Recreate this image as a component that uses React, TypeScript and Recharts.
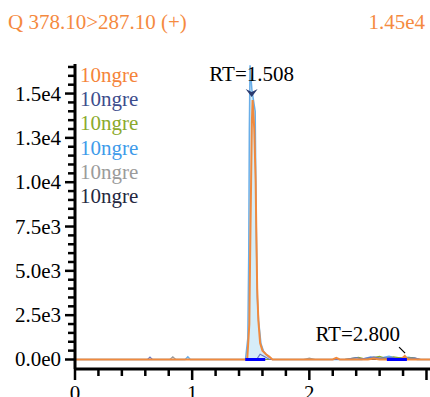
import React from 'react';
import { ComposedChart, Line, Area, XAxis, YAxis, ReferenceLine, ReferenceDot } from 'recharts';

const FONT = '"Liberation Serif", "Times New Roman", serif';

const titleText = 'Q 378.10>287.10 (+)';
const maxIntensityText = '1.45e4';

const traceNames = ['10ngre', '10ngre', '10ngre', '10ngre', '10ngre', '10ngre'];
const traceColors = ['#F5843A', '#3D4D8D', '#8BAA2C', '#3E9BEA', '#9B9B9B', '#252841'];

// retention time (min) and intensity per trace
const orangeRt = [0, 0.8, 1.2, 1.47, 1.488, 1.495, 1.503, 1.51, 1.516, 1.53, 1.542, 1.548, 1.555, 1.565, 1.58, 1.6, 1.63, 1.66, 1.685, 2.2, 2.23, 2.26, 2.5, 2.55, 2.6, 2.78, 2.815, 2.84, 3.03];
const orangeInt = [0, 0, 0, 0, 2000, 6000, 10000, 13500, 14640, 13000, 10000, 7000, 4000, 2200, 930, 500, 300, 150, 0, 0, 90, 0, 0, 60, 0, 0, 200, 0, 0];

const darkBlueRt = [0, 0.62, 0.64, 0.66, 1.45, 1.55, 1.58, 1.62, 1.66, 2.3, 2.4, 2.45, 2.55, 2.6, 2.7, 2.75, 2.9, 2.95, 3.03];
const darkBlueInt = [0, 0, 140, 0, 0, 0, 300, 150, 0, 0, 100, 40, 150, 60, 120, 40, 90, 0, 0];

const oliveRt = [0, 2.3, 2.42, 2.48, 2.6, 2.66, 2.72, 2.8, 2.88, 2.95, 3.03];
const oliveInt = [0, 0, 120, 30, 180, 40, 150, 60, 100, 0, 0];

const lightBlueRt = [0, 0.94, 0.963, 0.985, 1.455, 1.475, 1.483, 1.488, 1.494, 1.51, 1.538, 1.546, 1.556, 1.567, 1.587, 1.61, 1.635, 1.66, 1.685, 2.45, 2.52, 2.58, 2.68, 2.74, 2.85, 2.92, 3.03];
const lightBlueInt = [0, 0, 150, 0, 0, 1200, 6000, 13000, 16600, 15200, 14000, 8000, 3500, 2200, 900, 450, 250, 120, 0, 0, 140, 50, 180, 70, 130, 0, 0];

const grayRt = [0, 0.81, 0.835, 0.86, 1.95, 2.0, 2.05, 2.5, 2.58, 2.65, 2.78, 2.85, 3.03];
const grayInt = [0, 0, 150, 0, 0, 80, 0, 0, 120, 30, 90, 0, 0];

const navyRt = [0, 3.03];
const navyInt = [0, 0];

// integration baselines (start, end)
const integStart = [1.453, 2.662];
const integEnd = [1.624, 2.833];

// peak annotations
const annotRt = [1.508, 2.8];
const annotLevel = [14800, 300];
const annotLabels = ['RT=1.508', 'RT=2.800'];

const xTicks = [0, 0.2, 0.4, 0.6, 0.8, 1, 1.2, 1.4, 1.6, 1.8, 2, 2.2, 2.4, 2.6, 2.8, 3];
const xMajorTicks = [0, 1, 2, 3];
const xTickLabels = ['0', '1', '2', ''];

const yTicks = [0, 500, 1000, 1500, 2000, 2500, 3000, 3500, 4000, 4500, 5000, 5500, 6000, 6500, 7000, 7500, 8000, 8500, 9000, 9500, 10000, 10500, 11000, 11500, 12000, 12500, 13000, 13500, 14000, 14500, 15000, 15500, 16000, 16500];
const yMajorTicks = [0, 2500, 5000, 7500, 10000, 12500, 15000];
const yTickLabels = ['0.0e0', '2.5e3', '5.0e3', '7.5e3', '1.0e4', '1.3e4', '1.5e4'];

const toSeries = (rt: number[], val: number[]) => rt.map((t, i) => ({ t, v: val[i] }));

const YTick = (props: any) => {
  const { x, y, payload } = props;
  const idx = yMajorTicks.indexOf(payload.value);
  const major = idx >= 0;
  return (
    <g>
      <line x1={x - (major ? 10 : 7)} x2={x} y1={y} y2={y} stroke="#000" strokeWidth={2.5} />
      {major && (
        <text x={x - 14} y={y + 7} textAnchor="end" fontSize={21} fontFamily={FONT} fill="#000">
          {yTickLabels[idx]}
        </text>
      )}
    </g>
  );
};

const XTick = (props: any) => {
  const { x, y, payload } = props;
  const idx = xMajorTicks.indexOf(payload.value);
  const major = idx >= 0;
  return (
    <g>
      <line x1={x} x2={x} y1={y} y2={y + (major ? 11 : 7)} stroke="#000" strokeWidth={2.5} />
      {major && (
        <text x={x} y={y + 31} textAnchor="middle" fontSize={21} fontFamily={FONT} fill="#000">
          {xTickLabels[idx]}
        </text>
      )}
    </g>
  );
};

const PeakMark = (props: any) => {
  const { cx, cy, index } = props;
  if (index === 0) {
    return (
      <g>
        <polygon points={`${cx - 6},${cy - 8} ${cx},${cy - 5} ${cx + 6},${cy - 8} ${cx},${cy}`} fill="#2A3A70" />
        <text x={cx} y={cy - 16} textAnchor="middle" fontSize={21} fontFamily={FONT} fill="#000">
          {annotLabels[0]}
        </text>
      </g>
    );
  }
  return (
    <g>
      <line x1={cx - 4} y1={cy - 7} x2={cx + 2} y2={cy - 1} stroke="#000" strokeWidth={1.2} />
      <text x={cx - 3} y={cy - 13} textAnchor="end" fontSize={21} fontFamily={FONT} fill="#000">
        {annotLabels[index]}
      </text>
    </g>
  );
};

export default function App() {
  return (
    <div style={{ position: 'absolute', left: 0, top: 0, width: 430, height: 397, background: '#fff', fontFamily: FONT, overflow: 'hidden' }}>
      <div style={{ position: 'absolute', left: 8, top: 12, fontSize: 21, lineHeight: '21px', color: '#F58A3F', whiteSpace: 'nowrap' }}>
        {titleText}
      </div>
      <div style={{ position: 'absolute', right: 5, top: 12, fontSize: 21, lineHeight: '21px', color: '#F58A3F' }}>
        {maxIntensityText}
      </div>

      <ComposedChart width={430} height={397} margin={{ top: 64, right: 0, bottom: 0, left: 0 }}>
        <XAxis
          type="number"
          dataKey="t"
          domain={[0, 3.03]}
          ticks={xTicks}
          interval={0}
          height={28}
          tickSize={0}
          tickMargin={0}
          tick={<XTick />}
          axisLine={{ stroke: '#000', strokeWidth: 3 }}
          tickLine={false}
          allowDataOverflow
        />
        <YAxis
          type="number"
          domain={[-536, 16667]}
          ticks={yTicks}
          interval={0}
          width={75}
          tickSize={0}
          tickMargin={0}
          tick={<YTick />}
          axisLine={{ stroke: '#000', strokeWidth: 3 }}
          tickLine={false}
          allowDataOverflow
        />
        <Area
          data={toSeries(lightBlueRt, lightBlueInt)}
          dataKey="v"
          type="linear"
          baseValue={0}
          stroke="#6AAEE8"
          strokeWidth={1.5}
          fill="#D6EDF8"
          fillOpacity={1}
          isAnimationActive={false}
        />
        <Line data={toSeries(navyRt, navyInt)} dataKey="v" type="linear" stroke={traceColors[5]} strokeWidth={1.2} dot={false} isAnimationActive={false} />
        <Line data={toSeries(grayRt, grayInt)} dataKey="v" type="linear" stroke={traceColors[4]} strokeWidth={1.2} dot={false} isAnimationActive={false} />
        <Line data={toSeries(oliveRt, oliveInt)} dataKey="v" type="linear" stroke={traceColors[2]} strokeWidth={1.2} dot={false} isAnimationActive={false} />
        <Line data={toSeries(darkBlueRt, darkBlueInt)} dataKey="v" type="linear" stroke="#6A78C0" strokeWidth={1.2} dot={false} isAnimationActive={false} />
        <Line data={toSeries(orangeRt, orangeInt)} dataKey="v" type="linear" stroke="#F08A3E" strokeWidth={2} dot={false} isAnimationActive={false} />
        {integStart.map((s, i) => (
          <ReferenceLine
            key={`integ-${i}`}
            segment={[{ x: s, y: 0 }, { x: integEnd[i], y: 0 }]}
            stroke="#0000FF"
            strokeWidth={3}
          />
        ))}
        {annotRt.map((rt, i) => (
          <ReferenceDot
            key={`annot-${i}`}
            x={rt}
            y={annotLevel[i]}
            r={0}
            shape={(p: any) => <PeakMark {...p} index={i} />}
          />
        ))}
      </ComposedChart>

      <div style={{ position: 'absolute', left: 80, top: 63, fontSize: 21, lineHeight: '24.2px' }}>
        {traceNames.map((name, i) => (
          <div key={i} style={{ color: traceColors[i], whiteSpace: 'nowrap' }}>{name}</div>
        ))}
      </div>
    </div>
  );
}
